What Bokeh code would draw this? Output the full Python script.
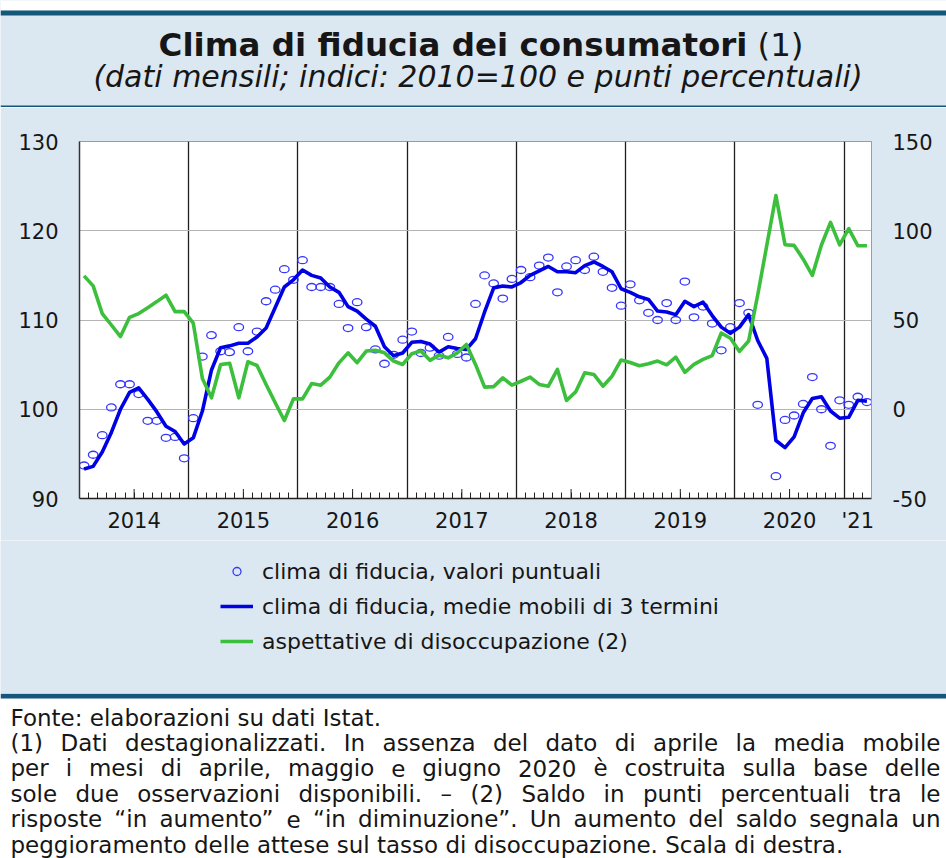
from bokeh.plotting import figure
from bokeh.models import (Range1d, LinearAxis, FixedTicker, Label, Legend,
                          LegendItem, ColumnDataSource, BoxAnnotation)
from bokeh.layouts import column
from bokeh.embed import file_html
from bokeh.resources import INLINE
from bokeh.core.properties import value

# ---------------- data ----------------
anni = ["2014", "2015", "2016", "2017", "2018", "2019", "2020"]
anno_parziale = "'21"

# clima di fiducia, valori puntuali (indice 2010=100), gen 2014 - mar 2021 (apr 2020 mancante)
clima_puntuali = [
    93.7, 94.9, 97.1, 100.2, 102.8, 102.8, 101.7, 98.7, 98.7, 96.8, 96.9, 94.5,
    99.0, 105.9, 108.3, 106.5, 106.4, 109.2, 106.5, 108.7, 112.1, 113.4, 115.7, 114.5,
    116.7, 113.7, 113.7, 113.7, 111.8, 109.1, 112.0, 109.2, 106.7, 105.1, 106.1, 107.8,
    108.7, 106.3, 106.9, 106.0, 108.1, 106.2, 105.8, 111.8, 115.0, 114.1, 112.4, 114.6,
    115.6, 114.8, 116.1, 117.0, 113.1, 116.0, 116.7, 115.6, 117.1, 115.4, 113.6, 111.6,
    114.0, 112.2, 110.8, 110.0, 111.9, 110.0, 114.3, 110.3, 111.5, 109.6, 106.6, 109.2,
    111.9, 110.8, 100.5, None, 92.5, 98.8, 99.3, 100.6, 103.6, 100.0, 95.9, 101.0,
    100.5, 101.4, 100.8,
]

# clima di fiducia, medie mobili di 3 termini
clima_media_mobile = [
    93.3, 93.6, 95.2, 97.4, 100.0, 101.9, 102.4, 101.1, 99.7, 98.1, 97.5, 96.1,
    96.8, 99.8, 104.4, 106.9, 107.1, 107.4, 107.4, 108.1, 109.1, 111.4, 113.7, 114.5,
    115.6, 115.0, 114.7, 113.7, 113.1, 111.5, 111.0, 110.1, 109.3, 107.0, 106.0, 106.3,
    107.5, 107.6, 107.3, 106.4, 107.0, 106.8, 106.7, 107.9, 110.9, 113.6, 113.8, 113.7,
    114.2, 115.0, 115.5, 116.0, 115.4, 115.4, 115.3, 116.1, 116.5, 116.0, 115.4, 113.5,
    113.1, 112.6, 112.3, 111.0, 110.9, 110.6, 112.1, 111.5, 112.0, 110.5, 109.2, 108.5,
    109.2, 110.6, 107.7, 105.7, 96.5, 95.7, 96.9, 99.6, 101.2, 101.4, 99.8, 99.0,
    99.1, 101.0, 100.9,
]

# aspettative di disoccupazione (saldo, punti percentuali; scala di destra)
aspettative_disoccupazione = [
    74.7, 69.1, 53.6, 47.2, 40.7, 51.5, 53.6, 56.9, 60.3, 63.9, 54.7, 54.7,
    48.2, 17.2, 6.4, 25.1, 25.7, 6.4, 26.6, 24.5, 13.9, 3.6, -6.3, 5.8,
    5.8, 14.4, 13.5, 18.0, 26.0, 31.6, 26.1, 32.6, 33.0, 31.6, 27.0, 25.1,
    31.1, 32.6, 27.4, 30.3, 28.8, 31.6, 36.3, 25.1, 12.4, 12.7, 17.6, 13.5,
    15.7, 18.0, 13.9, 12.9, 22.3, 4.9, 9.7, 20.4, 19.5, 12.9, 18.5, 27.6,
    26.2, 24.4, 25.5, 27.0, 24.9, 29.2, 20.7, 25.1, 27.9, 30.0, 42.7, 39.8,
    32.4, 38.2, 64.0, None, 119.7, 92.2, 91.8, 84.1, 75.0, 92.0, 104.7, 92.1,
    101.2, 91.6, 91.6,
]

etichette_legenda = [
    "clima di fiducia, valori puntuali",
    "clima di fiducia, medie mobili di 3 termini",
    "aspettative di disoccupazione (2)",
]
titolo = "Clima di fiducia dei consumatori"
titolo_nota = "(1)"
sottotitolo = "(dati mensili; indici: 2010=100 e punti percentuali)"
note = [
    "Fonte: elaborazioni su dati Istat.",
    "(1) Dati destagionalizzati. In assenza del dato di aprile la media mobile",
    "per i mesi di aprile, maggio e giugno 2020 è costruita sulla base delle",
    "sole due osservazioni disponibili. – (2) Saldo in punti percentuali tra le",
    "risposte “in aumento” e “in diminuzione”. Un aumento del saldo segnala un",
    "peggioramento delle attese sul tasso di disoccupazione. Scala di destra.",
]

# ---------------- style ----------------
FONT = "DejaVu Sans"
BG = "#dce8f1"
DARK = "#14577a"
BLUE_PT = "#3636ff"
BLUE_LN = "#0000e4"
GREEN = "#3cbf3c"
TXT = "#161616"
W = 946
NAN = float("nan")

n = len(clima_puntuali)
xpos = [i + 0.5 for i in range(n)]


def no_align(fig):
    try:
        fig.frame_align = False
    except Exception:
        pass
    return fig


def canvas_fig(h, bg):
    f = figure(width=W, height=h, x_range=Range1d(0, W), y_range=Range1d(0, h),
               x_axis_type=None, y_axis_type=None, toolbar_location=None,
               output_backend="svg", min_border=0, outline_line_color=None,
               background_fill_color=bg, border_fill_color=bg)
    return no_align(f)


# ---------------- title block (page y 0..107) ----------------
TH = 107
tf = canvas_fig(TH, BG)
tf.add_layout(BoxAnnotation(bottom=TH - 10, top=TH, fill_color="white",
                            fill_alpha=1, line_color=None))
tf.add_layout(BoxAnnotation(bottom=TH - 15, top=TH - 10, fill_color=DARK,
                            fill_alpha=1, line_color=None))
tf.add_layout(BoxAnnotation(bottom=0, top=2, fill_color=DARK,
                            fill_alpha=1, line_color=None))
tf.add_layout(Label(x=747, y=TH - 44, text=titolo, text_align="right",
                    text_baseline="middle", text_font=FONT, text_font_style="bold",
                    text_font_size="32.5px", text_color=TXT))
tf.add_layout(Label(x=757, y=TH - 44, text=titolo_nota, text_align="left",
                    text_baseline="middle", text_font=FONT,
                    text_font_size="32.5px", text_color=TXT))
tf.add_layout(Label(x=477.5, y=TH - 76, text=sottotitolo, text_align="center",
                    text_baseline="middle", text_font=FONT, text_font_style="italic",
                    text_font_size="30px", text_color=TXT))

# ---------------- main chart (page y 107..540) ----------------
p = figure(width=W, height=433, x_range=Range1d(0, n), y_range=Range1d(90, 130),
           output_backend="svg", toolbar_location=None,
           min_border_left=79, min_border_right=75, min_border_top=34,
           min_border_bottom=42, background_fill_color="white",
           border_fill_color=BG, outline_line_color="#9c9c9c")
no_align(p)
p.extra_y_ranges = {"right": Range1d(-50, 150), "px": Range1d(0, 357)}

yax = p.yaxis[0]
yax.ticker = FixedTicker(ticks=[90, 100, 110, 120, 130])
yax.major_tick_in = 0
yax.major_tick_out = 0
yax.minor_tick_in = 0
yax.minor_tick_out = 0
yax.axis_line_color = "#333333"
yax.axis_line_width = 1.5
yax.major_label_standoff = 21
yax.major_label_text_font = FONT
yax.major_label_text_font_size = "21px"
yax.major_label_text_color = TXT

rax = LinearAxis(y_range_name="right", ticker=FixedTicker(ticks=[-50, 0, 50, 100, 150]))
rax.major_label_overrides = {-50: "-50"}
rax.major_tick_in = 0
rax.major_tick_out = 0
rax.minor_tick_in = 0
rax.minor_tick_out = 0
rax.axis_line_color = "#9c9c9c"
rax.major_label_standoff = 21
rax.major_label_text_font = FONT
rax.major_label_text_font_size = "21px"
rax.major_label_text_color = TXT
p.add_layout(rax, "right")

year_mid = [6 + 12 * k for k in range(len(anni))]
label_pos = year_mid + [n - 1.5]
xax = p.xaxis[0]
xax.ticker = FixedTicker(ticks=label_pos,
                         minor_ticks=[m for m in range(1, n) if m % 12 != 0])
xax.major_label_overrides = {t: lab for t, lab in zip(label_pos, anni + [anno_parziale])}
xax.major_tick_in = 0
xax.major_tick_out = 0
xax.minor_tick_in = 6
xax.minor_tick_out = 0
xax.minor_tick_line_color = "#222222"
xax.axis_line_color = "#222222"
xax.axis_line_width = 1.5
xax.major_label_standoff = 10
xax.major_label_text_font = FONT
xax.major_label_text_font_size = "21px"
xax.major_label_text_color = TXT

# taller mid-year tick marks
p.segment(x0=year_mid, y0=[0] * len(year_mid), x1=year_mid, y1=[9.5] * len(year_mid),
          y_range_name="px", line_color="#222222", line_width=1)

p.xgrid.ticker = FixedTicker(ticks=[12 * k for k in range(1, 8)])
p.xgrid.grid_line_color = "#1e1e1e"
p.xgrid.grid_line_width = 1.3
p.ygrid.ticker = FixedTicker(ticks=[100, 110, 120])
p.ygrid.grid_line_color = "#b4b4b4"
p.ygrid.grid_line_width = 1.2

pt_src = ColumnDataSource(dict(
    x=[xpos[i] for i in range(n) if clima_puntuali[i] is not None],
    y=[v for v in clima_puntuali if v is not None]))
r_pt = p.ellipse(x="x", y="y", width=9.5, height=7, width_units="screen",
                 height_units="screen", fill_color=None, line_color=BLUE_PT,
                 line_width=1.3, source=pt_src)

r_ma = p.line(x=xpos, y=clima_media_mobile, line_color=BLUE_LN, line_width=3.6,
              line_join="round")

g_x = [xpos[i] for i in range(n) if aspettative_disoccupazione[i] is not None]
g_y = [v for v in aspettative_disoccupazione if v is not None]
r_g = p.line(x=g_x, y=g_y, y_range_name="right", line_color=GREEN,
             line_width=3.6, line_join="round")

# ---------------- legend block (page y 540..693) ----------------
LH = 153
lf = canvas_fig(LH, BG)
k_pt = lf.scatter(x=[NAN], y=[NAN], marker="circle", size=8, fill_color=None,
                  line_color=BLUE_PT, line_width=1.3)
k_ma = lf.line(x=[NAN, NAN], y=[NAN, NAN], line_color=BLUE_LN, line_width=3.6)
k_g = lf.line(x=[NAN, NAN], y=[NAN, NAN], line_color=GREEN, line_width=3.6)
legend = Legend(items=[
    LegendItem(label=etichette_legenda[0], renderers=[k_pt]),
    LegendItem(label=etichette_legenda[1], renderers=[k_ma]),
    LegendItem(label=etichette_legenda[2], renderers=[k_g]),
], location=(220, 39), orientation="vertical", padding=0, margin=0,
    spacing=9, glyph_width=33, glyph_height=20, label_height=26,
    label_standoff=9, border_line_color=None, background_fill_alpha=0,
    label_text_font=FONT, label_text_font_size="22px", label_text_color=TXT)
lf.add_layout(legend)

# ---------------- footnote (page y 693..858) ----------------
FH = 165
ff = canvas_fig(FH, "white")
ff.add_layout(BoxAnnotation(bottom=FH - 5, top=FH, fill_color=DARK,
                            fill_alpha=1, line_color=None))

CW = {' ': 651, '(': 799, ')': 799, ',': 651, '-': 739, '.': 651, ':': 690,
      ';': 690, '=': 1716, '–': 1024, '“': 1067, '”': 1067, 'è': 1260,
      'A': 1401, 'B': 1405, 'C': 1430, 'D': 1577, 'E': 1294, 'F': 1178,
      'I': 604, 'S': 1300, 'U': 1499,
      'a': 1255, 'b': 1300, 'c': 1126, 'd': 1300, 'e': 1260, 'f': 721,
      'g': 1300, 'h': 1298, 'i': 569, 'j': 569, 'k': 1186, 'l': 569,
      'm': 1995, 'n': 1298, 'o': 1253, 'p': 1300, 'q': 1300, 'r': 842,
      's': 1067, 't': 803, 'u': 1298, 'v': 1212, 'w': 1675, 'x': 1212,
      'y': 1212, 'z': 1075}
for d in "0123456789":
    CW[d] = 1303

FS = 23


def tw(s):
    return sum(CW.get(c, 1250) for c in s) * FS / 2048.0


x_left, x_right = 10.0, 940.0
wx, wy, wt = [], [], []
for k, line in enumerate(note):
    yline = FH - (717 - 693) - 25.4 * k
    justify = 0 < k < len(note) - 1
    if not justify:
        wx.append(x_left); wy.append(yline); wt.append(line)
        continue
    words = line.split(" ")
    widths = [tw(w) for w in words]
    gap = (x_right - x_left - sum(widths)) / (len(words) - 1)
    cx = x_left
    for w, wd in zip(words, widths):
        wx.append(cx); wy.append(yline); wt.append(w)
        cx += wd + gap
ff.text(x="x", y="y", text="t", source=ColumnDataSource(dict(x=wx, y=wy, t=wt)),
        text_font=value(FONT), text_font_size="23px", text_color=TXT,
        text_align="left", text_baseline="middle")

layout = column(tf, p, lf, ff, spacing=0)

open("out.html", "w").write(file_html(layout, INLINE))
